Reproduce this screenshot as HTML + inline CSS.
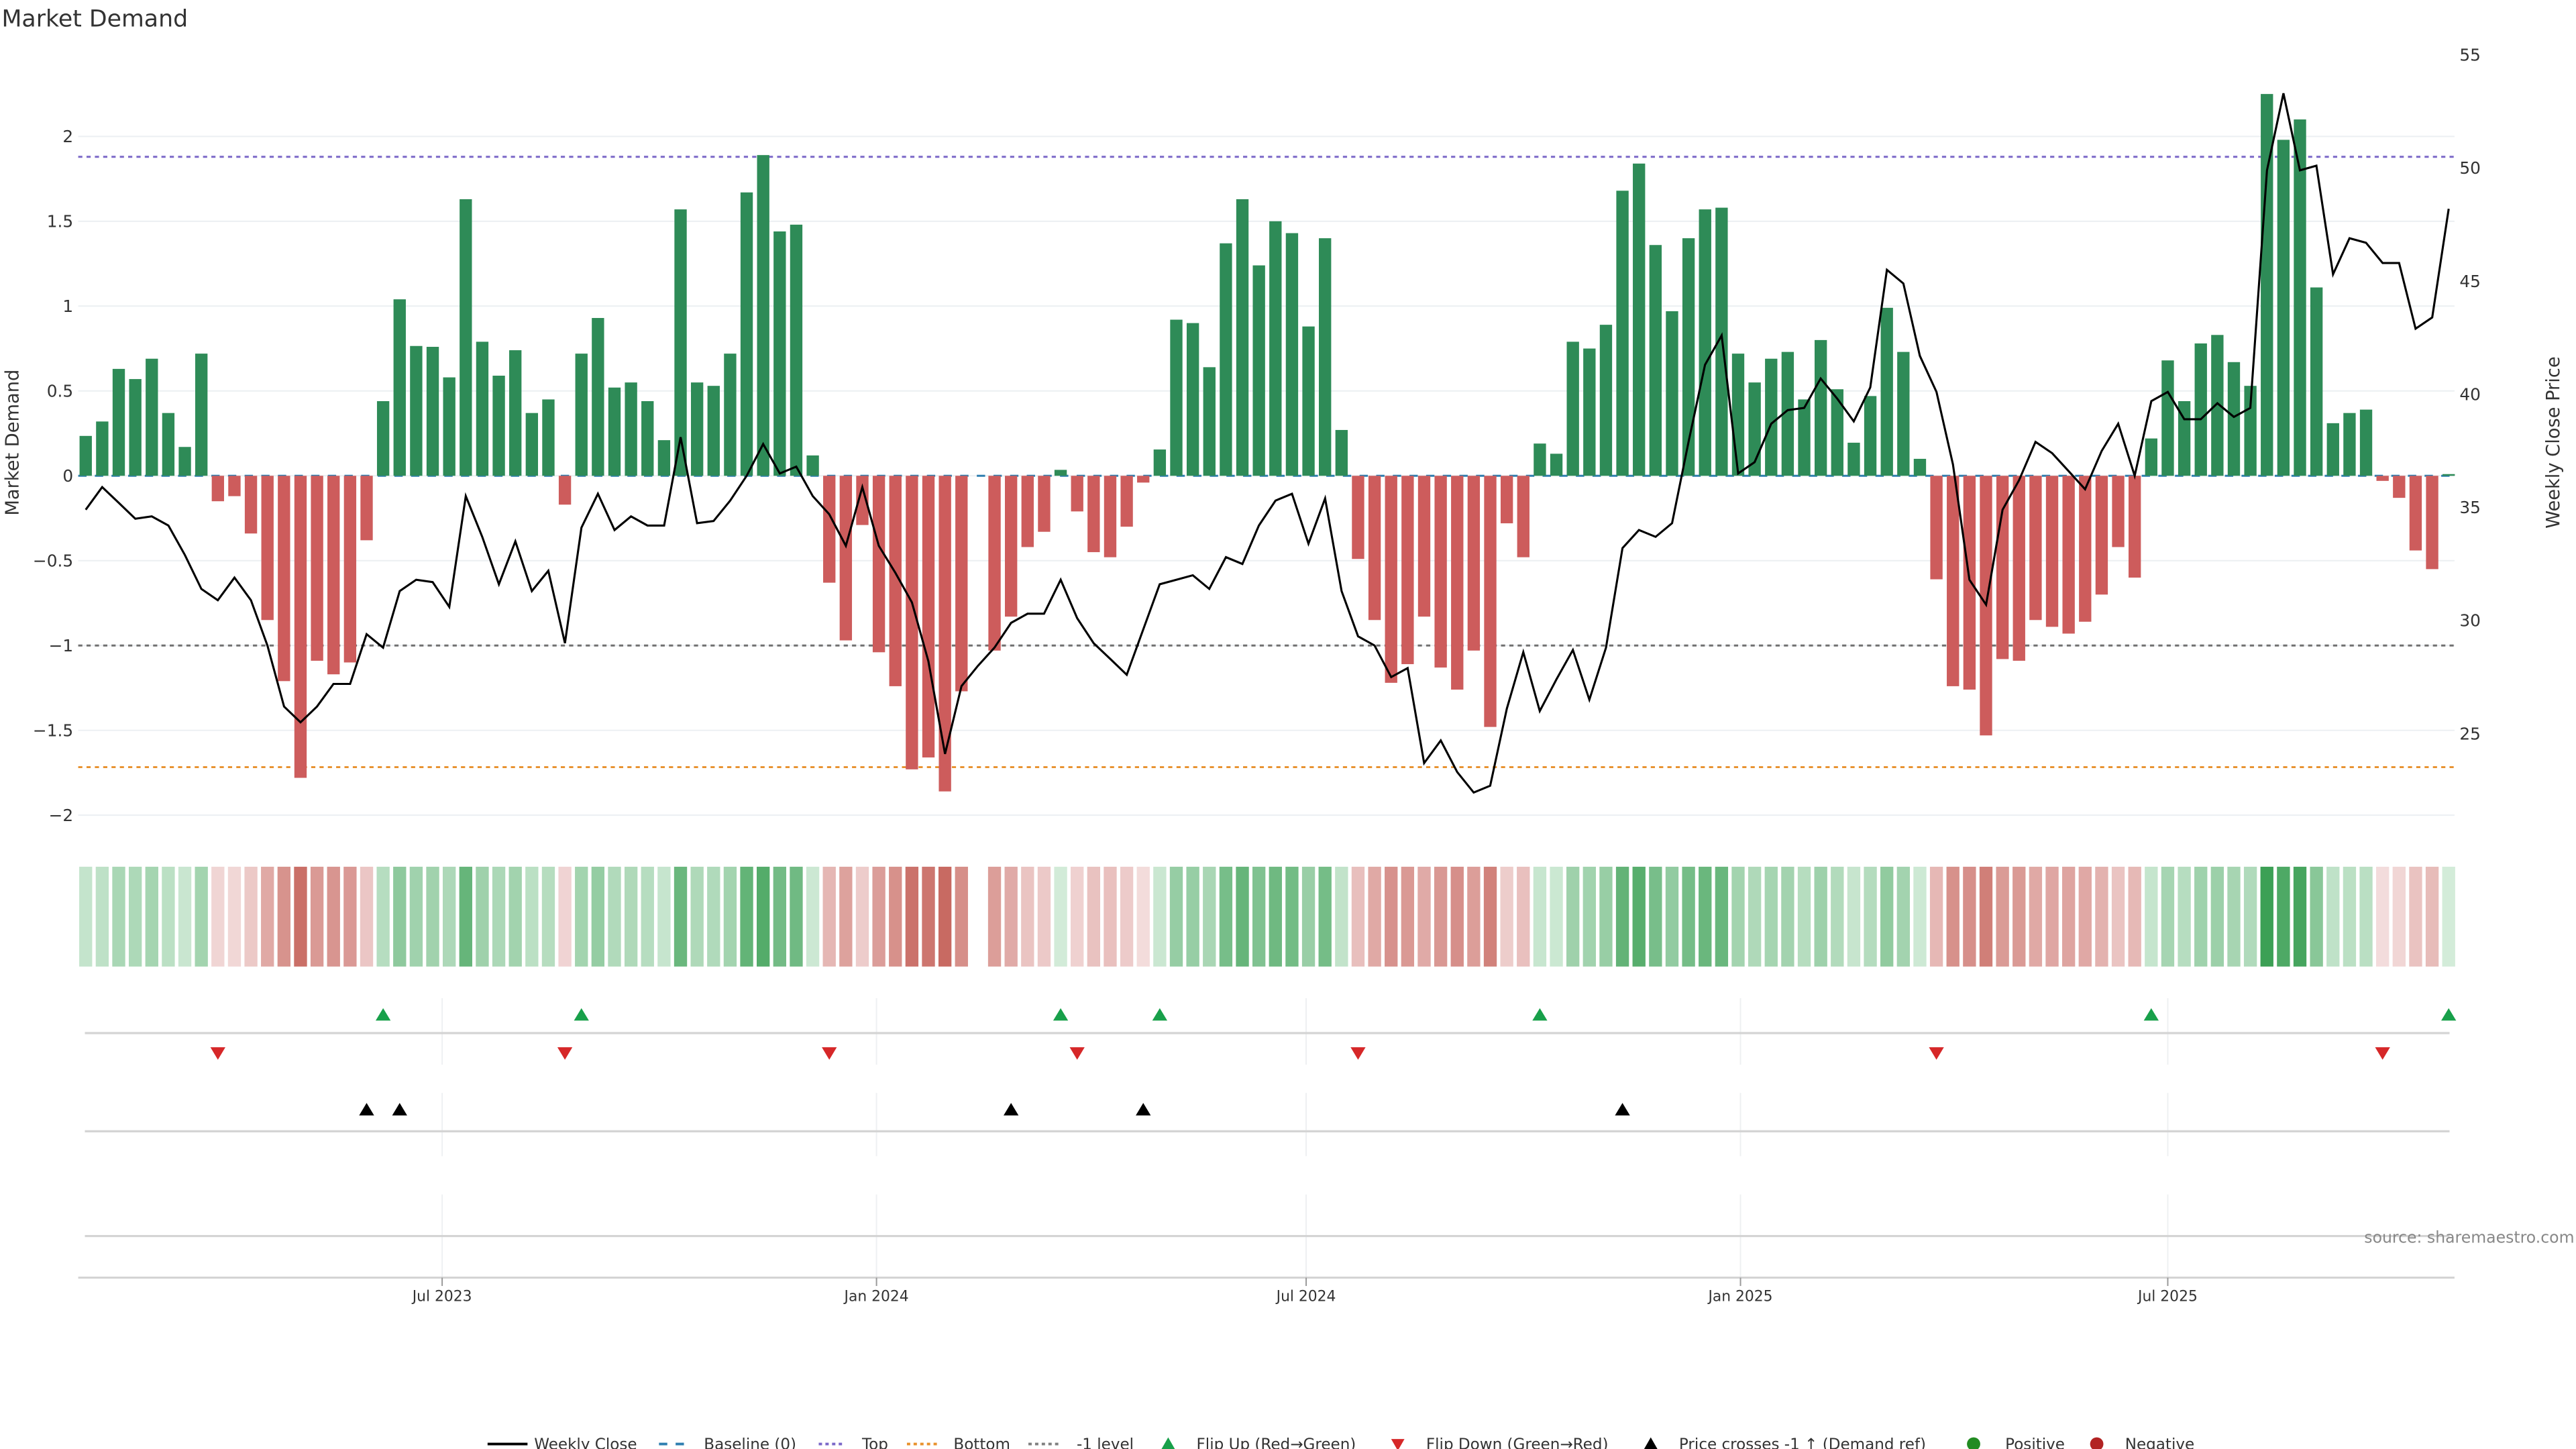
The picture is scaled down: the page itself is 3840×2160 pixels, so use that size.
<!DOCTYPE html>
<html><head><meta charset="utf-8"><style>
html,body{margin:0;padding:0;background:#fff;}
svg{display:block;font-family:"DejaVu Sans","Liberation Sans",sans-serif;}
</style></head><body>
<svg id="chart" width="3840" height="2160" viewBox="0 0 1548 871" preserveAspectRatio="none" xmlns="http://www.w3.org/2000/svg">
<rect width="1548" height="871" fill="#fff"/>
<text x="1" y="16" font-size="14" fill="#333">Market Demand</text>
<g id="grid"></g><g id="refs"></g><g id="bars"></g><g id="price"></g><g id="heat"></g><g id="markers"></g><g id="axes"></g>
<text transform="translate(11,266) rotate(-90)" text-anchor="middle" font-size="11" fill="#333">Market Demand</text>
<text transform="translate(1538,266) rotate(-90)" text-anchor="middle" font-size="11" fill="#333">Weekly Close Price</text>
<text x="1547" y="747" text-anchor="end" font-size="9.5" fill="#888">source: sharemaestro.com</text>
<g id="legend"></g>
</svg>
<script>
const demandValues=[0.235,0.32,0.63,0.57,0.69,0.37,0.17,0.72,-0.15,-0.12,
-0.34,-0.85,-1.21,-1.78,-1.09,-1.17,-1.10,-0.38,0.44,1.04,
0.765,0.76,0.58,1.63,0.79,0.59,0.74,0.37,0.45,-0.17,
0.72,0.93,0.52,0.55,0.44,0.21,1.57,0.55,0.53,0.72,
1.67,1.89,1.44,1.48,0.12,-0.63,-0.97,-0.29,-1.04,-1.24,
-1.73,-1.66,-1.86,-1.27,null,-1.03,-0.83,-0.42,-0.33,0.035,
-0.21,-0.45,-0.48,-0.30,-0.04,0.155,0.92,0.90,0.64,1.37,
1.63,1.24,1.50,1.43,0.88,1.40,0.27,-0.49,-0.85,-1.22,
-1.11,-0.83,-1.13,-1.26,-1.03,-1.48,-0.28,-0.48,0.19,0.13,
0.79,0.75,0.89,1.68,1.84,1.36,0.97,1.40,1.57,1.58,
0.72,0.55,0.69,0.73,0.45,0.80,0.51,0.195,0.47,0.99,
0.73,0.10,-0.61,-1.24,-1.26,-1.53,-1.08,-1.09,-0.85,-0.89,
-0.93,-0.86,-0.70,-0.42,-0.60,0.22,0.68,0.44,0.78,0.83,
0.67,0.53,2.25,1.98,2.10,1.11,0.31,0.37,0.39,-0.03,
-0.13,-0.44,-0.55,0.01];
const closePrices=[34.9,35.9,35.2,34.5,34.6,34.2,32.9,31.4,30.9,31.9,
30.9,28.9,26.2,25.5,26.2,27.2,27.2,29.4,28.8,31.3,
31.8,31.7,30.6,35.5,33.7,31.6,33.5,31.3,32.2,29.0,
34.1,35.6,34.0,34.6,34.2,34.2,38.1,34.3,34.4,35.3,
36.4,37.8,36.5,36.8,35.5,34.7,33.3,35.9,33.3,32.1,
30.8,28.2,24.1,27.1,28.0,28.8,29.9,30.3,30.3,31.8,
30.1,29.0,28.3,27.6,29.6,31.6,31.8,32.0,31.4,32.8,
32.5,34.2,35.3,35.6,33.4,35.4,31.3,29.3,28.9,27.5,
27.9,23.7,24.7,23.3,22.4,22.7,26.1,28.6,26.0,27.4,
28.7,26.5,28.8,33.2,34.0,33.7,34.3,37.9,41.3,42.6,
36.5,37.0,38.7,39.3,39.4,40.7,39.8,38.8,40.3,45.5,
44.9,41.7,40.1,36.9,31.8,30.7,34.9,36.2,37.9,37.4,
36.6,35.8,37.5,38.7,36.4,39.7,40.1,38.9,38.9,39.6,
39.0,39.4,49.9,53.3,49.9,50.1,45.3,46.9,46.7,45.8,
45.8,42.9,43.4,48.2];
const flipUpIdx=[18,30,59,65,88,125,143];
const flipDownIdx=[8,29,45,60,77,112,139];
const priceCrossIdx=[17,19,56,64,93];
const leftTicks=[2,1.5,1,0.5,0,-0.5,-1,-1.5,-2];
const leftTickLabels=["2","1.5","1","0.5","0","−0.5","−1","−1.5","−2"];
const rightTicks=[55,50,45,40,35,30,25];
const dateTicks=["2023-07-01","2024-01-01","2024-07-01","2025-01-01","2025-07-01"];
const dateTickLabels=["Jul 2023","Jan 2024","Jul 2024","Jan 2025","Jul 2025"];
const topLevel=1.88, bottomLevel=-1.717, minusOneLevel=-1;
const startDate="2023-01-31";

const NS="http://www.w3.org/2000/svg";
function mk(tag,attrs,parent){const e=document.createElementNS(NS,tag);for(const k in attrs)e.setAttribute(k,attrs[k]);parent.appendChild(e);return e;}
const X0=51.5,PITCH=9.93,PL=47,PR=1475;
const xIdx=i=>X0+i*PITCH;
const xDate=s=>xIdx((new Date(s)-new Date(startDate))/(7*864e5));
const yL=v=>286-102*v;
const yR=p=>33+(55-p)*13.6;
const G=id=>document.getElementById(id);

leftTicks.forEach((t,k)=>{
  const l=mk('line',{x1:PL,x2:PR,y1:yL(t),y2:yL(t),stroke:'#eceff2','stroke-width':0.8},G('grid'));
  
  
  const tx=mk('text',{x:44,y:yL(t)+3.5,'text-anchor':'end','font-size':10,fill:'#333'},G('axes'));
  tx.textContent=leftTickLabels[k];
  
  
});
rightTicks.forEach(t=>{
  const tx=mk('text',{x:1478,y:yR(t)+3.5,'font-size':10,fill:'#333'},G('axes'));
  tx.textContent=String(t);
  
  
});
function ref(v,color,dash,name,w){const l=mk('line',{x1:PL,x2:PR,y1:yL(v),y2:yL(v),stroke:color,'stroke-width':w||1.2,'stroke-dasharray':dash},G('refs'));
  
  }
ref(topLevel,'#7b68c8','2.5,2.5','top-line');
ref(minusOneLevel,'#707070','2.5,2.5','minus-one-line');
ref(bottomLevel,'#e8912d','2.5,2.5','bottom-line');
demandValues.forEach((v,i)=>{
  if(v===null)return;
  const y0=yL(0),y1=yL(v);
  const r=mk('rect',{x:xIdx(i)-3.7,width:7.4,y:Math.min(y0,y1),height:Math.max(Math.abs(y1-y0),0.5),fill:v>=0?'#2e8b57':'#cd5c5c'},G('bars'));
  
  
});
const bl=mk('line',{x1:PL,x2:PR,y1:yL(0),y2:yL(0),stroke:'#2f7fb0','stroke-width':1.2,'stroke-dasharray':'5,5'},G('refs'));


const pts=closePrices.map((p,i)=>xIdx(i).toFixed(1)+','+yR(p).toFixed(1)).join(' ');
const pl=mk('polyline',{points:pts,fill:'none',stroke:'#000','stroke-width':1.25,'stroke-linejoin':'miter'},G('price'));


const maxPos=Math.max(...demandValues.filter(v=>v!==null));
const maxNeg=Math.max(...demandValues.filter(v=>v!==null).map(v=>-v));
function mix(a,b,t){return 'rgb('+a.map((c,k)=>Math.round(c+(b[k]-c)*t)).join(',')+')';}
demandValues.forEach((v,i)=>{
  if(v===null)return;
  const c=v>=0?mix([212,236,218],[60,160,85],Math.min(1,v/maxPos)):mix([244,222,222],[200,106,98],Math.min(1,-v/maxNeg));
  const r=mk('rect',{x:xIdx(i)-3.9,width:7.8,y:521,height:60,fill:c},G('heat'));
  
  
});
[[600,640],[657,695],[718,768]].forEach(([a,b])=>dateTicks.forEach(d=>{
  const l=mk('line',{x1:xDate(d),x2:xDate(d),y1:a,y2:b,stroke:'#eef0f2','stroke-width':0.8},G('markers'));
  
  
}));
[621,680,743].forEach(y=>{
  const l=mk('line',{x1:51,x2:1472,y1:y,y2:y,stroke:'#d4d4d4','stroke-width':1.3},G('markers'));
  
  
});
function tri(x,y,up,color,name){
  const p=up?`${x},${y-4} ${x-4.5},${y+3.5} ${x+4.5},${y+3.5}`:`${x},${y+4} ${x-4.5},${y-3.5} ${x+4.5},${y-3.5}`;
  const t=mk('polygon',{points:p,fill:color},G('markers'));
  
  
}
flipUpIdx.forEach(i=>tri(xIdx(i),610,true,'#18a04a','flip-up-marker'));
flipDownIdx.forEach(i=>tri(xIdx(i),633,false,'#d62728','flip-down-marker'));
priceCrossIdx.forEach(i=>tri(xIdx(i),667,true,'#000','price-cross-marker'));
const xa=mk('line',{x1:PL,x2:PR,y1:768,y2:768,stroke:'#d4d4d4','stroke-width':1.3},G('axes'));


dateTicks.forEach((d,k)=>{
  const x=xDate(d);
  const tk=mk('line',{x1:x,x2:x,y1:768,y2:773,stroke:'#999','stroke-width':0.8},G('axes'));
  
  
  const tx=mk('text',{x:x,y:782,'text-anchor':'middle','font-size':8.8,fill:'#333'},G('axes'));
  tx.textContent=dateTickLabels[k];
  
  
});
const L=G('legend');const ly=868;
function ltext(x,s){const t=mk('text',{x:x,y:ly+3.3,'font-size':9.3,fill:'#333'},L);t.textContent=s;
  
  }
function lline(x1,x2,color,dash,w){const l=mk('line',{x1:x1,x2:x2,y1:ly,y2:ly,stroke:color,'stroke-width':w,'stroke-dasharray':dash},L);
  
  }
lline(293,317,'#000','none',1.6);ltext(321,'Weekly Close');
lline(396,414,'#2f7fb0','5,5',1.6);ltext(423,'Baseline (0)');
lline(492,508,'#7b68c8','2,2',1.6);ltext(518,'Top');
lline(545,563,'#e8912d','2,2',1.6);ltext(573,'Bottom');
lline(618,637,'#808080','2,2',1.6);ltext(647,'-1 level');
function ltri(x,up,color){const p=up?`${x},${ly-4} ${x-4},${ly+3} ${x+4},${ly+3}`:`${x},${ly+4} ${x-4},${ly-3} ${x+4},${ly-3}`;
  const t=mk('polygon',{points:p,fill:color},L);
  
  }
ltri(702,true,'#18a04a');ltext(719,'Flip Up (Red→Green)');
ltri(840,false,'#d62728');ltext(857,'Flip Down (Green→Red)');
ltri(992,true,'#000');ltext(1009,'Price crosses -1 ↑ (Demand ref)');
function lcirc(x,color){const c=mk('circle',{cx:x,cy:ly,r:4,fill:color},L);
  
  }
lcirc(1186,'#228b22');ltext(1205,'Positive');
lcirc(1260,'#b22222');ltext(1277,'Negative');
</script>
</body></html>
